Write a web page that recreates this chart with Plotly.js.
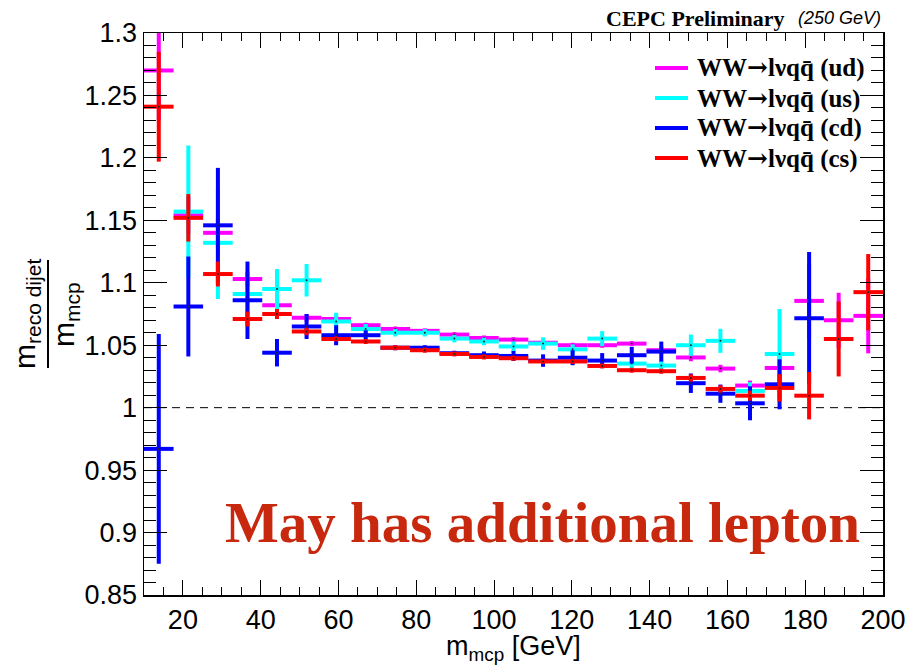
<!DOCTYPE html>
<html>
<head>
<meta charset="utf-8">
<script src="https://cdn.plot.ly/plotly-3.0.1.min.js"></script>
<style>html,body{margin:0;padding:0;background:#fff;}#chart{width:910px;height:667px;}</style>
</head>
<body>
<div id="chart"></div>
<script>
// ---- data ----
const binCenters = [13.8, 21.4, 29, 36.6, 44.2, 51.8, 59.4, 67, 74.6, 82.2, 89.8, 97.4, 105, 112.6, 120.2, 127.8, 135.4, 143, 150.6, 158.2, 165.8, 173.4, 181, 188.6, 196.2];
const binHalfWidth = [3.8];

const seriesNames = ["ud", "us", "cd", "cs"];

const udValues = [1.270, 1.154, 1.140, 1.103, 1.082, 1.072, 1.071, 1.066, 1.063, 1.0615, 1.0585, 1.0558, 1.0545, 1.052, 1.050, 1.050, 1.0513, 1.046, 1.0402, 1.0313, 1.0177, 1.0318, 1.0855, 1.070, 1.0735];
const udErrors = [0.040, 0.015, 0.012, 0.006, 0.004, 0.003, 0.003, 0.002, 0.002, 0.002, 0.002, 0.002, 0.002, 0.002, 0.002, 0.002, 0.002, 0.003, 0.003, 0.003, 0.004, 0.012, 0.030, 0.022, 0.030];

const usValues = [null, 1.157, 1.132, 1.091, 1.095, 1.102, 1.069, 1.063, 1.060, 1.060, 1.0553, 1.053, 1.049, 1.0513, 1.0467, 1.0553, 1.0353, 1.0337, 1.050, 1.0535, 1.0134, 1.043, null, null, null];
const usErrors = [null, 0.053, 0.045, 0.015, 0.016, 0.013, 0.007, 0.004, 0.003, 0.003, 0.003, 0.003, 0.004, 0.005, 0.004, 0.006, 0.004, 0.004, 0.0085, 0.0096, 0.007, 0.036, null, null, null];

const cdValues = [0.967, 1.081, 1.146, 1.086, 1.044, 1.065, 1.058, 1.058, 1.048, 1.048, 1.0436, 1.042, 1.0414, 1.0377, 1.040, 1.0377, 1.042, 1.0449, 1.0196, 1.0112, 1.0035, 1.0187, 1.0716, null, null];
const cdErrors = [0.092, 0.040, 0.046, 0.031, 0.011, 0.010, 0.008, 0.004, 0.002, 0.002, 0.002, 0.003, 0.004, 0.005, 0.006, 0.006, 0.0067, 0.008, 0.0078, 0.0073, 0.0136, 0.020, 0.053, null, null];

const csValues = [1.241, 1.152, 1.107, 1.071, 1.075, 1.061, 1.055, 1.053, 1.048, 1.046, 1.043, 1.0406, 1.0396, 1.037, 1.037, 1.0334, 1.030, 1.0292, 1.0238, 1.015, 1.0096, 1.0158, 1.0096, 1.055, 1.0925];
const csErrors = [0.044, 0.019, 0.010, 0.006, 0.004, 0.003, 0.002, 0.002, 0.002, 0.002, 0.002, 0.002, 0.002, 0.002, 0.002, 0.002, 0.002, 0.002, 0.003, 0.003, 0.004, 0.011, 0.019, 0.030, 0.0305];

const yTickVals = [0.85, 0.9, 0.95, 1, 1.05, 1.1, 1.15, 1.2, 1.25, 1.3];
const yTickText = ["0.85", "0.9", "0.95", "1", "1.05", "1.1", "1.15", "1.2", "1.25", "1.3"];
const xTickVals = [20, 40, 60, 80, 100, 120, 140, 160, 180, 200];
const xTickText = ["20", "40", "60", "80", "100", "120", "140", "160", "180", "200"];
const referenceLine = [1];

// ---- styles ----
const colors = ["#ff00ff", "#00ffff", "#0000ff", "#ff0000"];
const allValues = [udValues, usValues, cdValues, csValues];
const allErrors = [udErrors, usErrors, cdErrors, csErrors];

// plot area in pixels
const W = 910, H = 667, L = 144, R = 27, T = 33, B = 72;
const pw = W - L - R, ph = H - T - B;
const px = v => (v - L) / pw;
const py = v => (H - B - v) / ph;

const traces = seriesNames.map((n, i) => ({
  type: "scatter",
  mode: "markers",
  name: n,
  x: binCenters,
  y: allValues[i],
  marker: {size: 2, color: "#222"},
  error_x: {type: "constant", value: binHalfWidth[0], color: colors[i], thickness: 4, width: 0},
  error_y: {type: "data", array: allErrors[i], symmetric: true, color: colors[i], thickness: 4, width: 0},
  showlegend: false,
  hoverinfo: "skip"
}));

const legendLabels = seriesNames.map(n => "WW<span style=\"font-family:'DejaVu Serif'\">\u2192</span>l\u03bdqq\u0304 (" + n + ")");
const legendY = [68, 98, 128, 158];

const shapes = [
  {type: "line", xref: "paper", yref: "y", x0: 0, x1: 1, y0: referenceLine[0], y1: referenceLine[0],
   line: {color: "black", width: 1, dash: "8px,6px"}, layer: "below"},
  {type: "line", xref: "paper", yref: "paper", x0: px(48), x1: px(48), y0: py(260), y1: py(368),
   line: {color: "black", width: 2}}
];
legendY.forEach((yy, i) => {
  shapes.push({type: "line", xref: "paper", yref: "paper", x0: px(655), x1: px(688), y0: py(yy), y1: py(yy),
    line: {color: colors[i], width: 4}});
});

const annotations = [
  {xref: "paper", yref: "paper", x: px(26), y: py(314), text: "m<sub>reco dijet</sub>", textangle: -90,
   showarrow: false, xanchor: "center", yanchor: "middle", font: {family: "Liberation Sans, Arial", size: 30, color: "black"}},
  {xref: "paper", yref: "paper", x: px(65), y: py(315), text: "m<sub>mcp</sub>", textangle: -90,
   showarrow: false, xanchor: "center", yanchor: "middle", font: {family: "Liberation Sans, Arial", size: 30, color: "black"}},
  {xref: "paper", yref: "paper", x: px(513), y: py(648), text: "m<sub>mcp</sub> [GeV]",
   showarrow: false, xanchor: "center", yanchor: "middle", font: {family: "Liberation Sans, Arial", size: 27, color: "black"}},
  {xref: "paper", yref: "paper", x: px(542), y: py(522), text: "<b>May has additional lepton</b>",
   showarrow: false, xanchor: "center", yanchor: "middle", font: {family: "Liberation Serif, Times New Roman", size: 57, color: "#c8290e"}},
  {xref: "paper", yref: "paper", x: px(787), y: py(19), text: "<b>CEPC Preliminary</b>",
   showarrow: false, xanchor: "right", yanchor: "middle", font: {family: "Liberation Serif, Times New Roman", size: 22, color: "black"}},
  {xref: "paper", yref: "paper", x: px(883), y: py(18), text: "<i>(250 GeV)</i>",
   showarrow: false, xanchor: "right", yanchor: "middle", font: {family: "Liberation Sans, Arial", size: 18, color: "black"}}
];
legendLabels.forEach((t, i) => {
  annotations.push({xref: "paper", yref: "paper", x: px(695), y: py(legendY[i]), text: "<b>" + t + "</b>",
    showarrow: false, xanchor: "left", yanchor: "middle", font: {family: "Liberation Serif, Times New Roman", size: 25, color: "black"}});
});

const layout = {
  width: W, height: H,
  margin: {l: L, r: R, t: T, b: B, pad: 0},
  paper_bgcolor: "white", plot_bgcolor: "white",
  showlegend: false,
  xaxis: {
    range: [10, 200], tickmode: "array", tickvals: xTickVals, ticktext: xTickText,
    ticks: "inside", ticklen: 15, tickwidth: 1, tickcolor: "black",
    minor: {ticks: "inside", dtick: 5, tick0: 0, ticklen: 8, tickwidth: 1, tickcolor: "black", showgrid: false},
    showline: true, linecolor: "black", linewidth: 1.5, mirror: "allticks",
    showgrid: false, zeroline: false,
    tickfont: {family: "Liberation Sans, Arial", size: 27, color: "black"}
  },
  yaxis: {
    range: [0.85, 1.3], tickmode: "array", tickvals: yTickVals, ticktext: yTickText,
    ticks: "inside", ticklen: 23, tickwidth: 1, tickcolor: "black",
    minor: {ticks: "inside", dtick: 0.01, tick0: 0.85, ticklen: 12, tickwidth: 1, tickcolor: "black", showgrid: false},
    showline: true, linecolor: "black", linewidth: 1.5, mirror: "allticks",
    showgrid: false, zeroline: false,
    tickfont: {family: "Liberation Sans, Arial", size: 27, color: "black"}
  },
  shapes: shapes,
  annotations: annotations
};

Plotly.newPlot("chart", traces, layout, {staticPlot: true, displayModeBar: false});
</script>
</body>
</html>
